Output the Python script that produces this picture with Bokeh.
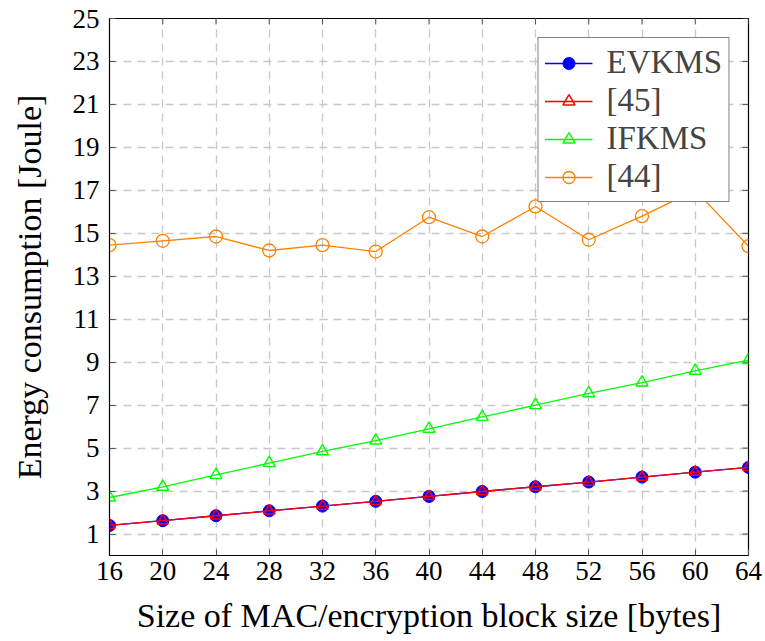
from bokeh.plotting import figure
from bokeh.models import (FixedTicker, Legend, LegendItem, Range1d)
from bokeh.embed import file_html
from bokeh.resources import INLINE

sizes = [16, 20, 24, 28, 32, 36, 40, 44, 48, 52, 56, 60, 64]
evkms = [1.4, 1.62, 1.85, 2.08, 2.3, 2.52, 2.75, 2.98, 3.2, 3.42, 3.65, 3.88, 4.1]
ref45 = [1.4, 1.62, 1.85, 2.08, 2.3, 2.52, 2.75, 2.98, 3.2, 3.42, 3.65, 3.88, 4.1]
ifkms = [2.7, 3.2, 3.75, 4.3, 4.85, 5.35, 5.9, 6.45, 7.0, 7.55, 8.05, 8.6, 9.1]
ref44 = [14.45, 14.65, 14.85, 14.2, 14.45, 14.15, 15.75, 14.85, 16.25, 14.7, 15.8, 17.0, 14.4]
x_ticks = sizes
y_ticks = [1, 3, 5, 7, 9, 11, 13, 15, 17, 19, 21, 23, 25]

FONT = "Liberation Serif"
XMIN, XMAX, YMIN, YMAX = 16, 64, 0, 25
W, H = 765, 641
BL, BR, BT, BB = 109, 17, 18, 86

p = figure(width=W, height=H, output_backend="svg", toolbar_location=None,
           x_range=Range1d(XMIN, XMAX), y_range=Range1d(YMIN, YMAX),
           min_border_left=BL, min_border_right=BR, min_border_top=BT,
           min_border_bottom=BB)
p.outline_line_color = "black"
p.outline_line_width = 1.2

for ax in (p.xaxis[0], p.yaxis[0]):
    ax.major_tick_in = 6
    ax.major_tick_out = 0
    ax.minor_tick_in = 0
    ax.minor_tick_out = 0
    ax.major_label_text_font = FONT
    ax.major_label_text_font_size = "27px"
    ax.major_label_text_color = "black"
    ax.axis_label_text_font = FONT
    ax.axis_label_text_font_size = "34px"
    ax.axis_label_text_font_style = "normal"
    ax.axis_label_text_color = "black"
    ax.axis_line_color = "black"
    ax.major_tick_line_color = "#555555"

p.xaxis[0].ticker = FixedTicker(ticks=x_ticks)
p.yaxis[0].ticker = FixedTicker(ticks=y_ticks)
p.xaxis[0].axis_label = "Size of MAC/encryption block size [bytes]"
p.yaxis[0].axis_label = "Energy consumption [Joule]"
p.xaxis[0].major_label_standoff = 6
p.yaxis[0].major_label_standoff = 10
p.xaxis[0].axis_label_standoff = 14
p.yaxis[0].axis_label_standoff = 22

# inward ticks on the top and right edges
tx = (XMAX - XMIN) / (W - BL - BR) * 6
ty = (YMAX - YMIN) / (H - BT - BB) * 6
p.segment(x0=x_ticks, y0=[YMAX] * len(x_ticks), x1=x_ticks, y1=[YMAX - ty] * len(x_ticks),
          line_color="#555555", line_width=1)
p.segment(x0=[XMAX] * len(y_ticks), y0=y_ticks, x1=[XMAX - tx] * len(y_ticks), y1=y_ticks,
          line_color="#555555", line_width=1)

p.xgrid.ticker = FixedTicker(ticks=x_ticks)
p.ygrid.ticker = FixedTicker(ticks=y_ticks)
for g in (p.xgrid[0], p.ygrid[0]):
    g.grid_line_color = "#c8c8c8"
    g.grid_line_dash = "8 6"
    g.grid_line_width = 1.3

lw = 1.3
l1 = p.line(sizes, evkms, color="#0000ff", line_width=lw)
m1 = p.scatter(sizes, evkms, marker="circle", size=12, fill_color="#0000ff", line_color="#0000ff")
l2 = p.line(sizes, ref45, color="#ff0000", line_width=lw)
m2 = p.scatter(sizes, ref45, marker="triangle", size=11, fill_alpha=0, line_color="#ff0000", line_width=1.5)
l3 = p.line(sizes, ifkms, color="#00ff00", line_width=lw)
m3 = p.scatter(sizes, ifkms, marker="triangle", size=12, fill_alpha=0, line_color="#00ff00", line_width=1.4)
l4 = p.line(sizes, ref44, color="#ff8000", line_width=lw)
m4 = p.scatter(sizes, ref44, marker="circle", size=13, fill_alpha=0, line_color="#ff8000", line_width=1.3)

legend = Legend(items=[
    LegendItem(label="EVKMS", renderers=[l1, m1]),
    LegendItem(label="[45]", renderers=[l2, m2]),
    LegendItem(label="IFKMS", renderers=[l3, m3]),
    LegendItem(label="[44]", renderers=[l4, m4]),
], location="top_right")
legend.label_text_font = FONT
legend.label_text_font_size = "33px"
legend.glyph_width = 48
legend.glyph_height = 30
legend.label_height = 30
legend.spacing = 1
legend.padding = 6
legend.margin = 19
legend.label_standoff = 14
legend.border_line_color = "black"
legend.border_line_width = 1.3
legend.background_fill_alpha = 1
p.add_layout(legend)

open("out.html", "w").write(file_html(p, INLINE))
